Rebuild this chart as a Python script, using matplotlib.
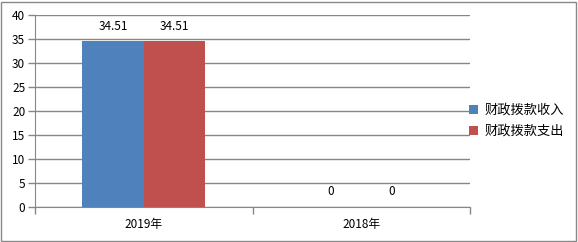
import matplotlib
matplotlib.use("Agg")
import matplotlib.pyplot as plt
from matplotlib.patches import Rectangle

plt.rcParams['font.family'] = ['Noto Sans CJK SC', 'DejaVu Sans']

categories = ["2019年", "2018年"]
series_names = ["财政拨款收入", "财政拨款支出"]
income = [34.51, 0]
expense = [34.51, 0]
yticks = [0, 5, 10, 15, 20, 25, 30, 35, 40]

colors = ["#4F81BD", "#C0504D"]
grid_c = "#868686"

fig = plt.figure(figsize=(5.78, 2.42), dpi=100)
ax = fig.add_axes([35/578, 1-207/242, (470-35)/578, (207-15)/242])

w = 0.283
x = list(range(len(categories)))
b1 = ax.bar([i - w/2 for i in x], income, width=w, color=colors[0], label=series_names[0], zorder=3)
b2 = ax.bar([i + w/2 for i in x], expense, width=w, color=colors[1], label=series_names[1], zorder=3)

for bars in (b1, b2):
    for r in bars:
        v = r.get_height()
        ax.annotate(f"{v:g}", (r.get_x() + r.get_width()/2, v), xytext=(0, 11),
                    textcoords="offset points", ha="center", va="center", fontsize=8.5, color="#000000")

ax.set_xlim(-0.5, 1.5)
ax.set_ylim(0, 40)
ax.set_yticks(yticks)
ax.set_yticklabels([str(t) for t in yticks], fontsize=8.5)
ax.yaxis.grid(True, color=grid_c, linewidth=1, zorder=0)
ax.set_axisbelow(True)

ax.set_xticks([-0.5, 0.5, 1.5])
ax.set_xticklabels([])
ax.set_xticks(x, minor=True)
ax.set_xticklabels(categories, minor=True, fontsize=8.5)
ax.tick_params(axis='x', which='minor', length=0, pad=8)
ax.tick_params(axis='x', which='major', length=5, color=grid_c, width=1)
ax.tick_params(axis='y', length=5, color=grid_c, width=1, pad=2)

for s in ["top", "right"]:
    ax.spines[s].set_visible(False)
ax.spines["left"].set_color(grid_c)
ax.spines["bottom"].set_color(grid_c)

fig.legend(handles=[b1, b2], labels=series_names, loc="center left",
           bbox_to_anchor=(469/578, 1-121/242), frameon=False, fontsize=9.5,
           handlelength=0.7, handleheight=0.7, handletextpad=0.45, labelspacing=0.6,
           borderaxespad=0, borderpad=0)

fig.patches.append(Rectangle((1/578, 1/242), 575/578, 239/242, transform=fig.transFigure,
                             fill=False, edgecolor="#898989", linewidth=1))

fig.savefig("out.png", dpi=100)
